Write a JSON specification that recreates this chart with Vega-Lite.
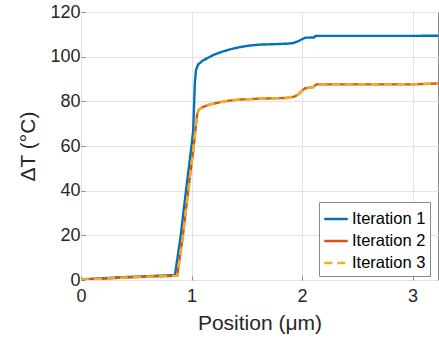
{
  "$schema": "https://vega.github.io/schema/vega-lite/v6.json",
  "autosize": "none",
  "padding": {"left": 81, "top": 12, "right": 1, "bottom": 61},
  "width": 357,
  "height": 268,
  "config": {
    "font": "Liberation Sans",
    "view": {"stroke": "#8a8a8a", "strokeWidth": 1},
    "axis": {
      "domain": false,
      "gridColor": "#e3e3e3",
      "gridWidth": 1,
      "tickColor": "#8a8a8a",
      "tickSize": -4,
      "labelFlush": false,
      "labelColor": "#262626",
      "labelFontSize": 18,
      "titleColor": "#262626",
      "titleFontSize": 21,
      "titleFontWeight": "normal"
    }
  },
  "data": {
    "values": [
      {"it": "Iteration 1", "x": 0, "y": 0.3},
      {"it": "Iteration 1", "x": 0.2, "y": 0.8},
      {"it": "Iteration 1", "x": 0.4, "y": 1.3},
      {"it": "Iteration 1", "x": 0.6, "y": 1.7},
      {"it": "Iteration 1", "x": 0.85, "y": 2.2},
      {"it": "Iteration 1", "x": 0.9, "y": 19},
      {"it": "Iteration 1", "x": 0.95, "y": 40},
      {"it": "Iteration 1", "x": 1.0, "y": 60},
      {"it": "Iteration 1", "x": 1.015, "y": 67},
      {"it": "Iteration 1", "x": 1.03, "y": 88},
      {"it": "Iteration 1", "x": 1.04, "y": 94},
      {"it": "Iteration 1", "x": 1.06, "y": 96.5},
      {"it": "Iteration 1", "x": 1.1, "y": 98.2},
      {"it": "Iteration 1", "x": 1.15, "y": 99.5},
      {"it": "Iteration 1", "x": 1.2, "y": 100.8},
      {"it": "Iteration 1", "x": 1.27, "y": 102.1},
      {"it": "Iteration 1", "x": 1.35, "y": 103.3},
      {"it": "Iteration 1", "x": 1.44, "y": 104.3},
      {"it": "Iteration 1", "x": 1.53, "y": 105},
      {"it": "Iteration 1", "x": 1.62, "y": 105.4},
      {"it": "Iteration 1", "x": 1.75, "y": 105.6},
      {"it": "Iteration 1", "x": 1.86, "y": 105.8},
      {"it": "Iteration 1", "x": 1.92, "y": 106.1},
      {"it": "Iteration 1", "x": 1.96, "y": 106.8},
      {"it": "Iteration 1", "x": 2.0, "y": 107.8},
      {"it": "Iteration 1", "x": 2.03, "y": 108.5},
      {"it": "Iteration 1", "x": 2.11, "y": 108.6},
      {"it": "Iteration 1", "x": 2.12, "y": 109.3},
      {"it": "Iteration 1", "x": 2.5, "y": 109.3},
      {"it": "Iteration 1", "x": 3.0, "y": 109.3},
      {"it": "Iteration 1", "x": 3.23, "y": 109.4},
      {"it": "Iteration 2", "x": 0, "y": 0.2},
      {"it": "Iteration 2", "x": 0.2, "y": 0.6},
      {"it": "Iteration 2", "x": 0.4, "y": 1.1},
      {"it": "Iteration 2", "x": 0.6, "y": 1.5},
      {"it": "Iteration 2", "x": 0.87, "y": 1.9},
      {"it": "Iteration 2", "x": 0.92, "y": 19},
      {"it": "Iteration 2", "x": 0.97, "y": 40},
      {"it": "Iteration 2", "x": 1.02, "y": 60},
      {"it": "Iteration 2", "x": 1.035, "y": 67},
      {"it": "Iteration 2", "x": 1.05, "y": 74},
      {"it": "Iteration 2", "x": 1.065, "y": 76.2},
      {"it": "Iteration 2", "x": 1.1, "y": 77.4},
      {"it": "Iteration 2", "x": 1.16, "y": 78.5},
      {"it": "Iteration 2", "x": 1.27, "y": 79.7},
      {"it": "Iteration 2", "x": 1.35, "y": 80.4},
      {"it": "Iteration 2", "x": 1.44, "y": 80.8},
      {"it": "Iteration 2", "x": 1.62, "y": 81.2},
      {"it": "Iteration 2", "x": 1.86, "y": 81.5},
      {"it": "Iteration 2", "x": 1.93, "y": 82.1},
      {"it": "Iteration 2", "x": 1.97, "y": 83.2},
      {"it": "Iteration 2", "x": 2.0, "y": 84.8},
      {"it": "Iteration 2", "x": 2.03, "y": 85.9},
      {"it": "Iteration 2", "x": 2.1, "y": 86.3},
      {"it": "Iteration 2", "x": 2.13, "y": 87.6},
      {"it": "Iteration 2", "x": 2.5, "y": 87.6},
      {"it": "Iteration 2", "x": 3.0, "y": 87.6},
      {"it": "Iteration 2", "x": 3.23, "y": 88.0},
      {"it": "Iteration 3", "x": 0, "y": 0.2},
      {"it": "Iteration 3", "x": 0.2, "y": 0.6},
      {"it": "Iteration 3", "x": 0.4, "y": 1.1},
      {"it": "Iteration 3", "x": 0.6, "y": 1.5},
      {"it": "Iteration 3", "x": 0.87, "y": 1.9},
      {"it": "Iteration 3", "x": 0.92, "y": 19},
      {"it": "Iteration 3", "x": 0.97, "y": 40},
      {"it": "Iteration 3", "x": 1.02, "y": 60},
      {"it": "Iteration 3", "x": 1.035, "y": 67},
      {"it": "Iteration 3", "x": 1.05, "y": 74},
      {"it": "Iteration 3", "x": 1.065, "y": 76.2},
      {"it": "Iteration 3", "x": 1.1, "y": 77.4},
      {"it": "Iteration 3", "x": 1.16, "y": 78.5},
      {"it": "Iteration 3", "x": 1.27, "y": 79.7},
      {"it": "Iteration 3", "x": 1.35, "y": 80.4},
      {"it": "Iteration 3", "x": 1.44, "y": 80.8},
      {"it": "Iteration 3", "x": 1.62, "y": 81.2},
      {"it": "Iteration 3", "x": 1.86, "y": 81.5},
      {"it": "Iteration 3", "x": 1.93, "y": 82.1},
      {"it": "Iteration 3", "x": 1.97, "y": 83.2},
      {"it": "Iteration 3", "x": 2.0, "y": 84.8},
      {"it": "Iteration 3", "x": 2.03, "y": 85.9},
      {"it": "Iteration 3", "x": 2.1, "y": 86.3},
      {"it": "Iteration 3", "x": 2.13, "y": 87.6},
      {"it": "Iteration 3", "x": 2.5, "y": 87.6},
      {"it": "Iteration 3", "x": 3.0, "y": 87.6},
      {"it": "Iteration 3", "x": 3.23, "y": 88.0}
    ]
  },
  "layer": [
    {
      "mark": {"type": "line", "strokeWidth": 2.4, "clip": true},
      "encoding": {
        "x": {
          "field": "x", "type": "quantitative",
          "scale": {"domain": [0, 3.23], "nice": false},
          "axis": {"values": [0, 1, 2, 3], "title": "Position (μm)", "labelPadding": 11, "titlePadding": 7}
        },
        "y": {
          "field": "y", "type": "quantitative",
          "scale": {"domain": [0, 120], "nice": false},
          "axis": {"values": [0, 20, 40, 60, 80, 100, 120], "title": "ΔT (°C)", "labelPadding": 5, "titlePadding": 11}
        },
        "color": {
          "field": "it", "type": "nominal",
          "scale": {"domain": ["Iteration 1", "Iteration 2", "Iteration 3"], "range": ["#0072BD", "#D95319", "#EDB120"]},
          "legend": {
            "title": null,
            "orient": "none",
            "legendX": 238,
            "legendY": 190,
            "symbolType": "stroke",
            "symbolStrokeWidth": 2.4,
            "symbolSize": 550,
            "labelFontSize": 16.5,
            "labelColor": "#000000",
            "labelOffset": 3,
            "fillColor": "#ffffff",
            "strokeColor": "#8a8a8a",
            "padding": 4,
            "rowPadding": 0
          }
        },
        "strokeDash": {
          "field": "it", "type": "nominal",
          "scale": {"domain": ["Iteration 1", "Iteration 2", "Iteration 3"], "range": [[1, 0], [1, 0], [8, 5]]},
          "legend": {
            "title": null,
            "orient": "none",
            "legendX": 238,
            "legendY": 190,
            "symbolType": "stroke",
            "symbolStrokeWidth": 2.4,
            "symbolSize": 550,
            "labelFontSize": 16.5,
            "labelColor": "#000000",
            "labelOffset": 3,
            "fillColor": "#ffffff",
            "strokeColor": "#8a8a8a",
            "padding": 4,
            "rowPadding": 0
          }
        }
      }
    }
  ]
}
